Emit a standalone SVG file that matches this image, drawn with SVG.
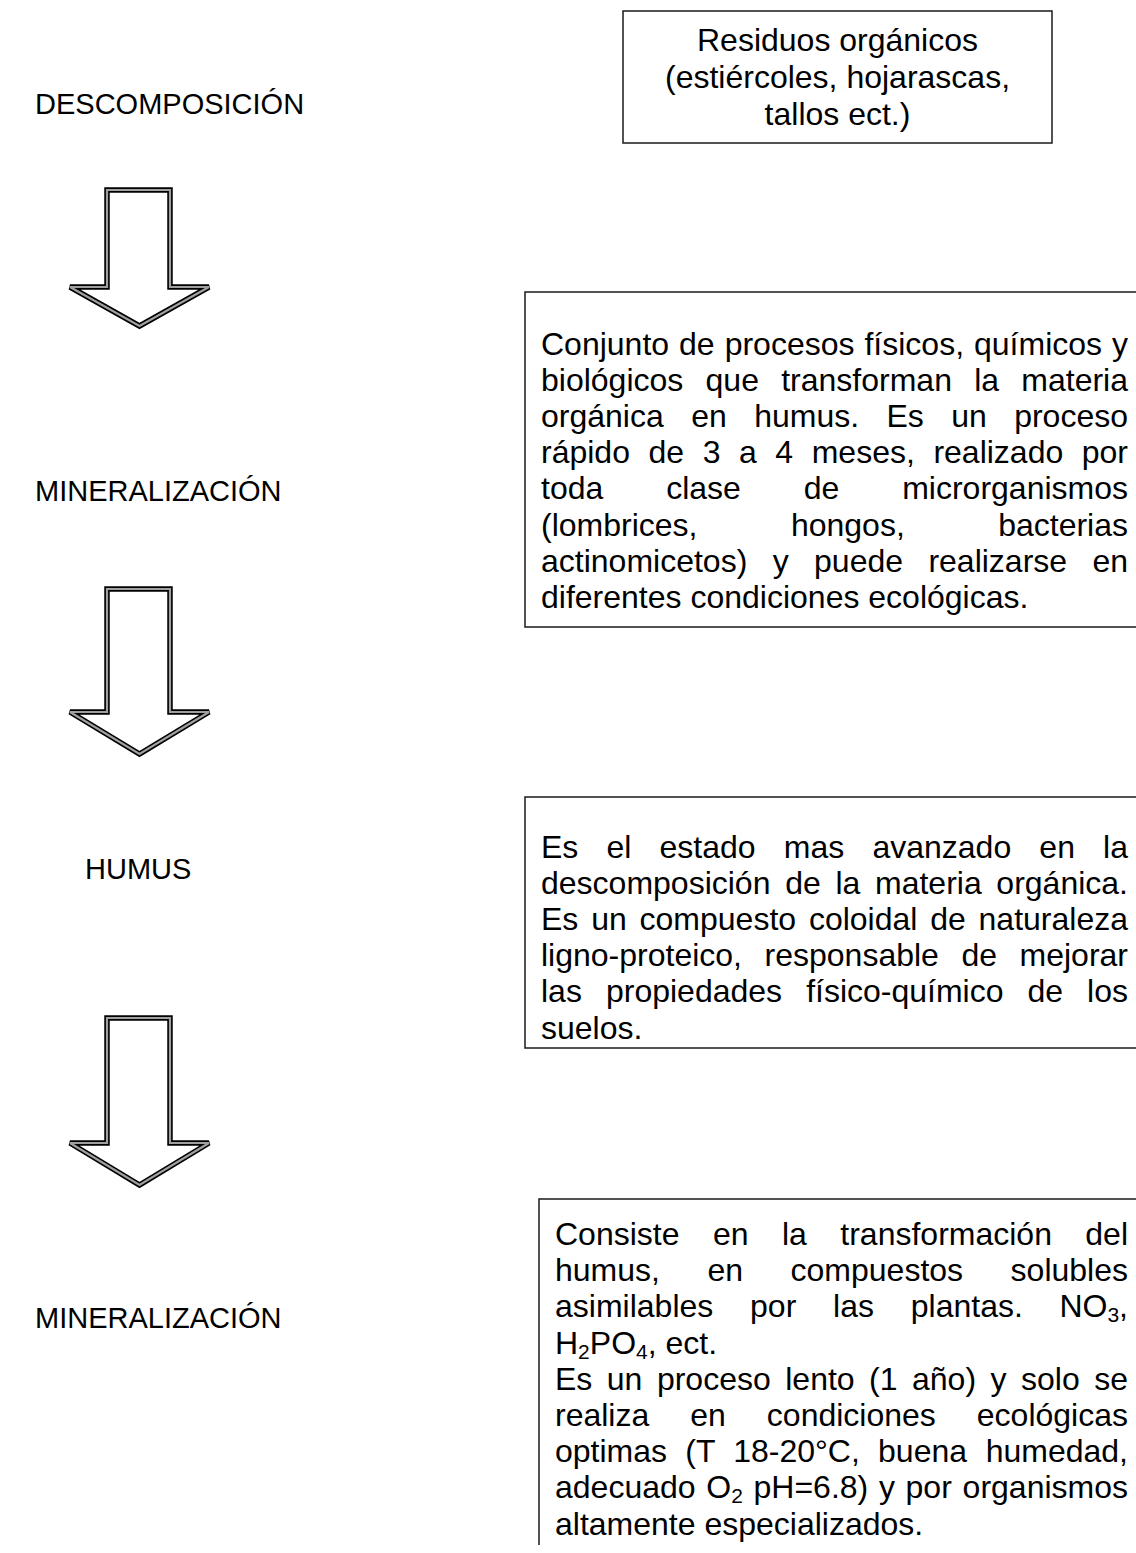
<svg xmlns="http://www.w3.org/2000/svg" width="1136" height="1553" viewBox="0 0 1136 1553">
<style>
.t{font-family:"Liberation Sans",Arial,sans-serif;font-size:32px;fill:#000}
.lbl{font-size:29px}
.e{text-anchor:end}
.m{text-anchor:middle}
.box{fill:none;stroke:#1a1a1a;stroke-width:1.5}
.arO{fill:#fff;stroke:#000;stroke-width:5.5;stroke-linejoin:miter;stroke-miterlimit:3}
.arI{fill:none;stroke:#a0a0a0;stroke-width:2.2;stroke-linejoin:miter;stroke-miterlimit:3}
</style>
<rect width="1136" height="1553" fill="#fff"/>

<g id="label-descomposicion"><text class="t lbl" x="35" y="114">DESCOMPOSICIÓN</text></g>
<g id="label-mineralizacion-1"><text class="t lbl" x="35" y="501">MINERALIZACIÓN</text></g>
<g id="label-humus"><text class="t lbl" x="85" y="879">HUMUS</text></g>
<g id="label-mineralizacion-2"><text class="t lbl" x="35" y="1328">MINERALIZACIÓN</text></g>

<g id="box-residuos">
<rect class="box" x="623" y="11" width="429" height="132"/>
<text class="t m" x="837.5" y="51">Residuos orgánicos</text>
<text class="t m" x="837.5" y="88">(estiércoles, hojarascas,</text>
<text class="t m" x="837.5" y="124.5">tallos ect.)</text>
</g>

<g id="box-descomposicion">
<rect class="box" x="525" y="292" width="620" height="335"/>
<text class="t" x="541" y="355" word-spacing="1.08">Conjunto de procesos físicos, químicos</text><text class="t e" x="1128" y="355">y</text>
<text class="t" x="541" y="391.1" word-spacing="13.37">biológicos que transforman la</text><text class="t e" x="1128" y="391.1">materia</text>
<text class="t" x="541" y="427.2" word-spacing="18.5">orgánica en humus. Es un</text><text class="t e" x="1128" y="427.2">proceso</text>
<text class="t" x="541" y="463.3" word-spacing="9.66">rápido de 3 a 4 meses, realizado</text><text class="t e" x="1128" y="463.3">por</text>
<text class="t" x="541" y="499.4" word-spacing="54">toda clase de</text><text class="t e" x="1128" y="499.4">microrganismos</text>
<text class="t" x="541" y="535.5" word-spacing="84.55">(lombrices, hongos,</text><text class="t e" x="1128" y="535.5">bacterias</text>
<text class="t" x="541" y="571.6" word-spacing="16.48">actinomicetos) y puede realizarse</text><text class="t e" x="1128" y="571.6">en</text>
<text class="t" x="541" y="607.7">diferentes condiciones ecológicas.</text>
</g>

<g id="box-humus">
<rect class="box" x="525" y="797" width="620" height="251"/>
<text class="t" x="541" y="858" word-spacing="19.27">Es el estado mas avanzado en</text><text class="t e" x="1128" y="858">la</text>
<text class="t" x="541" y="894.1" word-spacing="5.8">descomposición de la materia</text><text class="t e" x="1128" y="894.1">orgánica.</text>
<text class="t" x="541" y="930.2" word-spacing="3.92">Es un compuesto coloidal de</text><text class="t e" x="1128" y="930.2">naturaleza</text>
<text class="t" x="541" y="966.3" word-spacing="13.67">ligno-proteico, responsable de</text><text class="t e" x="1128" y="966.3">mejorar</text>
<text class="t" x="541" y="1002.4" word-spacing="15.15">las propiedades físico-químico de</text><text class="t e" x="1128" y="1002.4">los</text>
<text class="t" x="541" y="1038.5">suelos.</text>
</g>

<g id="box-mineralizacion">
<path class="box" d="M539,1545 V1199 H1140"/>
<text class="t" x="555" y="1245" word-spacing="24.55">Consiste en la transformación</text><text class="t e" x="1128" y="1245">del</text>
<text class="t" x="555" y="1281.2" word-spacing="38.63">humus, en compuestos</text><text class="t e" x="1128" y="1281.2">solubles</text>
<text class="t" x="555" y="1317.4" word-spacing="27.9">asimilables por las plantas.</text><text class="t e" x="1128" y="1317.4">NO<tspan font-size="21" dy="5">3</tspan><tspan dy="-5">,</tspan></text>
<text class="t" x="555" y="1353.6">H<tspan font-size="21" dy="5">2</tspan><tspan dy="-5">PO</tspan><tspan font-size="21" dy="5">4</tspan><tspan dy="-5">, ect.</tspan></text>
<text class="t" x="555" y="1389.8" word-spacing="5.59">Es un proceso lento (1 año) y solo</text><text class="t e" x="1128" y="1389.8">se</text>
<text class="t" x="555" y="1426" word-spacing="32.1">realiza en condiciones</text><text class="t e" x="1128" y="1426">ecológicas</text>
<text class="t" x="555" y="1462.2" word-spacing="9.35">optimas (T 18-20°C, buena</text><text class="t e" x="1128" y="1462.2">humedad,</text>
<text class="t" x="555" y="1498.4" word-spacing="1.78">adecuado O<tspan font-size="21" dy="5">2</tspan><tspan dy="-5"> pH=6.8) y por</tspan></text><text class="t e" x="1128" y="1498.4">organismos</text>
<text class="t" x="555" y="1534.6">altamente especializados.</text>
</g>

<g id="connectors">
<g id="arrow-1">
<polygon class="arO" points="107,190 170,190 170,287 209,287 139.5,326 70,287 107,287"/>
<polygon class="arI" points="107,190 170,190 170,287 209,287 139.5,326 70,287 107,287"/>
</g>
<g id="arrow-2">
<polygon class="arO" points="107,589 170,589 170,712 209,712 139.5,754 70,712 107,712"/>
<polygon class="arI" points="107,589 170,589 170,712 209,712 139.5,754 70,712 107,712"/>
</g>
<g id="arrow-3">
<polygon class="arO" points="107,1018 170,1018 170,1143 209,1143 139.5,1185 70,1143 107,1143"/>
<polygon class="arI" points="107,1018 170,1018 170,1143 209,1143 139.5,1185 70,1143 107,1143"/>
</g>
</g>
</svg>
